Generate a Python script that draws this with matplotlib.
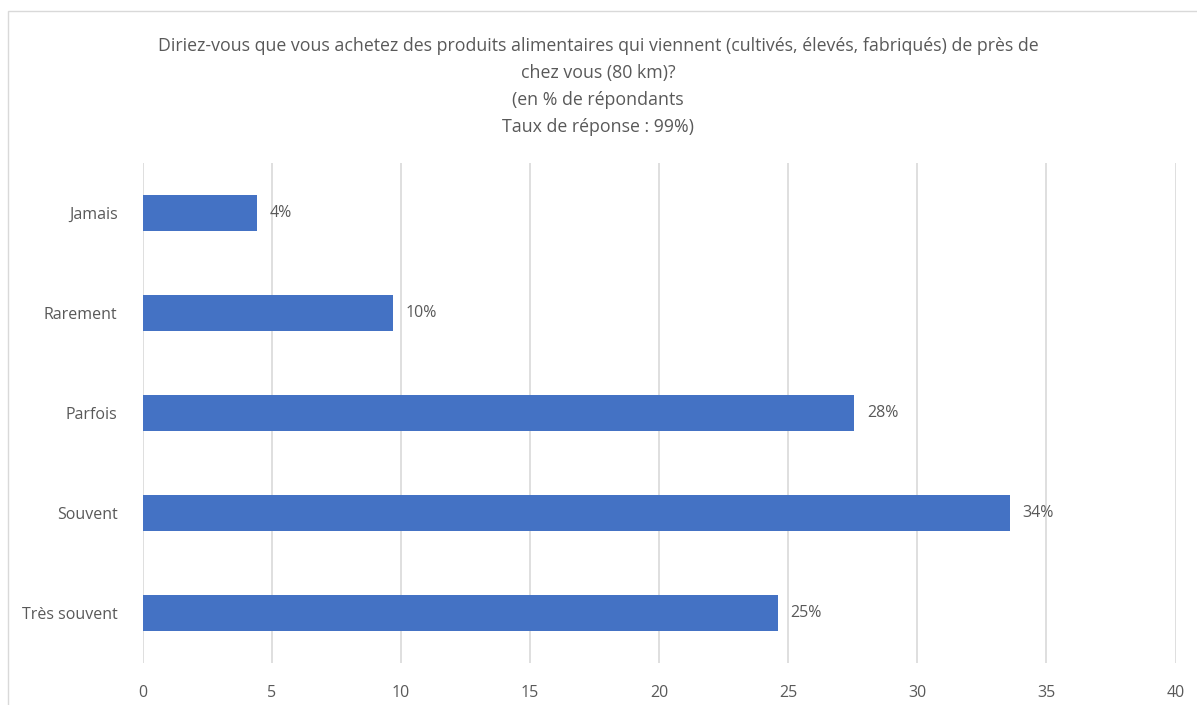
import matplotlib.pyplot as plt
from matplotlib.patches import Rectangle

# Data
categories = ['Jamais', 'Rarement', 'Parfois', 'Souvent', 'Très souvent']
values = [4.44, 9.70, 27.56, 33.58, 24.59]
value_labels = ['4%', '10%', '28%', '34%', '25%']
x_ticks = [0, 5, 10, 15, 20, 25, 30, 35, 40]

title = ("Diriez-vous que vous achetez des produits alimentaires qui viennent (cultivés, élevés, fabriqués) de près de\n"
         "chez vous (80 km)?\n"
         "(en % de répondants\n"
         "Taux de réponse : 99%)")

grey = '#595959'
bar_color = '#4472c4'
plt.rcParams['font.family'] = ['Open Sans', 'DejaVu Sans']

W, H = 1197, 705
fig = plt.figure(figsize=(W / 100, H / 100), dpi=100)

# outer chart frame (bottom and right edges fall outside the picture)
frame_top = (H - 11) / H
fig.patches.append(Rectangle((8 / W, -0.1), 1.2, frame_top + 0.1, transform=fig.transFigure,
                             fill=False, edgecolor='#d9d9d9', linewidth=1.0))

ax = fig.add_axes([142.5 / W, (H - 663) / H, (1175.5 - 142.5) / W, (663 - 163) / H])

y_pos = list(range(len(categories)))
ax.barh(y_pos, values, height=0.36, color=bar_color, zorder=3)

for y, v, lab in zip(y_pos, values, value_labels):
    ax.text(v + 0.5, y, lab, va='center', ha='left', fontsize=11.5, color=grey)

ax.set_yticks(y_pos)
ax.set_yticklabels(categories)
ax.set_ylim(len(categories) - 0.5, -0.5)
ax.set_xlim(0, 40)
ax.set_xticks(x_ticks)
ax.xaxis.grid(True, color='#d9d9d9', linewidth=1.2, zorder=0)
ax.tick_params(axis='both', length=0, labelsize=11.5, colors=grey)
ax.tick_params(axis='x', pad=16)
ax.tick_params(axis='y', pad=18)
for s in ax.spines.values():
    s.set_visible(False)

fig.text(598 / W, 1 - 37 / H, title, ha='center', va='top', fontsize=12.8,
         color=grey, linespacing=1.64)

fig.savefig('out.png', dpi=100)
